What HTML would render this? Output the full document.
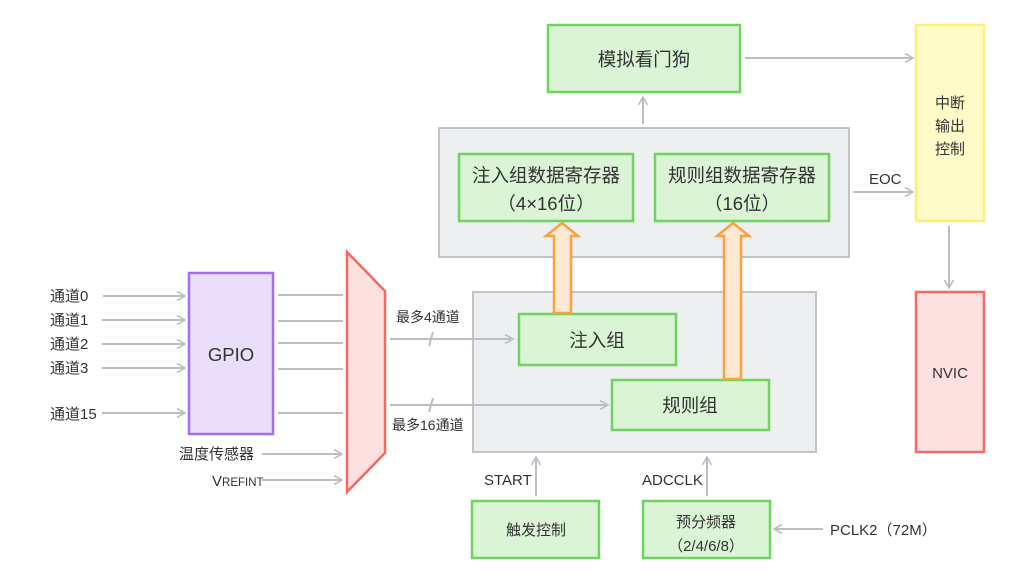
<!DOCTYPE html>
<html><head><meta charset="utf-8"><style>
html,body{margin:0;padding:0;background:#fff;}
svg{display:block;font-family:"Liberation Sans","Noto Sans CJK SC",sans-serif;}
text{fill:#333;}
</style></head><body>
<svg width="1031" height="577" viewBox="0 0 1031 577" xmlns="http://www.w3.org/2000/svg">
<defs>
<marker id="a" viewBox="0 0 10 10" refX="9" refY="5" markerWidth="10" markerHeight="10" markerUnits="userSpaceOnUse" orient="auto">
<path d="M1,0.5 L9,5 L1,9.5" fill="none" stroke="#bbbec3" stroke-width="1.6"/>
</marker>
</defs>
<g stroke="#c0c3c7" stroke-width="2" fill="#eeeff1">
<rect x="439" y="128" width="410" height="129"/>
<rect x="473" y="292" width="343" height="160"/>
</g>
<g stroke="#6bd65b" stroke-width="2.5" fill="#daf4d5">
<rect x="548" y="25" width="192" height="67"/>
<rect x="459" y="154" width="174" height="67"/>
<rect x="655" y="154" width="174" height="67"/>
<rect x="519" y="314" width="157" height="51"/>
<rect x="612" y="380" width="157" height="50"/>
<rect x="472" y="501" width="127" height="57"/>
<rect x="643" y="501" width="127" height="57"/>
</g>
<rect x="189" y="273" width="84" height="161" fill="#eadffb" stroke="#a36ef5" stroke-width="2.5"/>
<polygon points="347,252 385,291 385,453 347,492" fill="#fde0e0" stroke="#f26a62" stroke-width="2.5"/>
<rect x="916" y="25" width="68" height="196" fill="#fffbc9" stroke="#fdf07a" stroke-width="2.5"/>
<rect x="916" y="292" width="68" height="160" fill="#fde0e0" stroke="#f26a62" stroke-width="2.5"/>
<g fill="#fde8d3" stroke="#f8a33c" stroke-width="2.5">
<polygon points="554,313 554,236 546,236 562,223 578,236 571,236 571,313"/>
<polygon points="724,379 724,236 717,236 733,223 749,236 741,236 741,379"/>
</g>
<g stroke="#bbbec3" stroke-width="2" fill="none" marker-end="url(#a)">
<line x1="103" y1="296" x2="185" y2="296"/>
<line x1="102" y1="320" x2="185" y2="320"/>
<line x1="102" y1="344" x2="185" y2="344"/>
<line x1="102" y1="368" x2="185" y2="368"/>
<line x1="102" y1="413" x2="185" y2="413"/>
<line x1="262" y1="454" x2="342" y2="454"/>
<line x1="262" y1="480" x2="342" y2="480"/>
<line x1="390" y1="339" x2="513" y2="339"/>
<line x1="390" y1="405" x2="608" y2="405"/>
<line x1="643" y1="124" x2="643" y2="97"/>
<line x1="745" y1="58" x2="913" y2="58"/>
<line x1="853" y1="192" x2="913" y2="192"/>
<line x1="949" y1="226" x2="949" y2="288"/>
<line x1="536" y1="496" x2="536" y2="457"/>
<line x1="707" y1="496" x2="707" y2="457"/>
<line x1="823" y1="529" x2="774" y2="529"/>
</g>
<g stroke="#bbbec3" stroke-width="2">
<line x1="278" y1="295" x2="343" y2="295"/>
<line x1="278" y1="321" x2="343" y2="321"/>
<line x1="278" y1="343" x2="343" y2="343"/>
<line x1="278" y1="369" x2="343" y2="369"/>
<line x1="278" y1="413" x2="343" y2="413"/>
<line x1="433" y1="332" x2="429" y2="346"/>
<line x1="433" y1="398" x2="429" y2="412"/>
</g>
<g font-size="15">
<text x="50" y="301">通道0</text>
<text x="50" y="325">通道1</text>
<text x="50" y="349">通道2</text>
<text x="50" y="373">通道3</text>
<text x="50" y="419">通道15</text>
<text x="179" y="459">温度传感器</text>
<text x="212" y="486">V<tspan font-size="11.5">REFINT</tspan></text>
<text x="396" y="322" font-size="14">最多4通道</text>
<text x="392" y="430" font-size="14">最多16通道</text>
<text x="869" y="184">EOC</text>
<text x="484" y="485">START</text>
<text x="642" y="485">ADCCLK</text>
<text x="830" y="535">PCLK2（72M）</text>
<text x="536" y="535" text-anchor="middle">触发控制</text>
<text x="706" y="527" text-anchor="middle">预分频器</text>
<text x="706" y="551" text-anchor="middle">（2/4/6/8）</text>
<text x="950" y="108" text-anchor="middle">中断</text>
<text x="950" y="131" text-anchor="middle">输出</text>
<text x="950" y="154" text-anchor="middle">控制</text>
<text x="950" y="378" text-anchor="middle">NVIC</text>
</g>
<g font-size="18.5" text-anchor="middle">
<text x="231" y="361">GPIO</text>
<text x="644" y="66">模拟看门狗</text>
<text x="546" y="182">注入组数据寄存器</text>
<text x="546" y="210">（4×16位）</text>
<text x="742" y="182">规则组数据寄存器</text>
<text x="742" y="210">（16位）</text>
<text x="597" y="347">注入组</text>
<text x="690" y="412">规则组</text>
</g>
</svg>
</body></html>
